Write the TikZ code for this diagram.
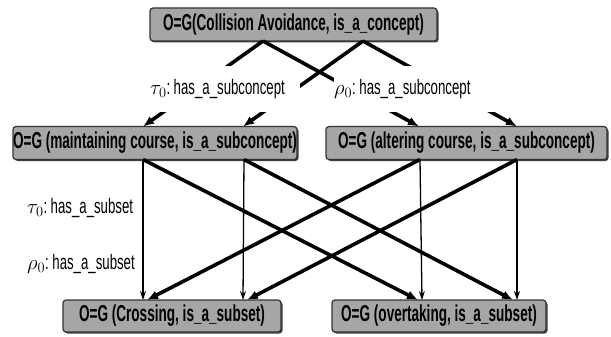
\documentclass[tikz,border=0pt]{standalone}
\usepackage{fontspec}
\setmainfont{Liberation Sans}
\newfontfamily\boxfont[FakeStretch=0.59]{Liberation Sans}
\newfontfamily\labfont[FakeStretch=0.63]{Liberation Sans}
\usetikzlibrary{arrows.meta,shadows}
\begin{document}
\begin{tikzpicture}[x=1pt,y=-1pt,
  box/.style={draw=black!80, line width=1.2pt, fill=black!35, rounded corners=3pt, inner sep=0pt,
    font=\boxfont\bfseries\fontsize{23}{26}\selectfont,
    drop shadow={shadow xshift=1.5pt, shadow yshift=-1.5pt, fill=black!75, opacity=1}},
  lab/.style={font=\labfont\fontsize{21}{24}\selectfont, inner sep=0pt},
  mask/.style={lab, fill=white, minimum height=46pt, align=left},
  thk/.style={line width=3.6pt, -{Latex[length=11pt,width=9pt]}},
  thn/.style={line width=1.3pt, -{Stealth[length=9pt,width=6pt]}}]
\useasboundingbox (0,0) rectangle (611,337);
\node[box, minimum width=287pt, minimum height=33pt] (top) at (293.5,24.5) {O=G(Collision Avoidance, is\_a\_concept)};
\node[box, minimum width=284pt, minimum height=33pt] (lmid) at (155,143) {O=G (maintaining course, is\_a\_subconcept)};
\node[box, minimum width=281pt, minimum height=33pt] (rmid) at (466.5,143) {O=G (altering course, is\_a\_subconcept)};
\node[box, minimum width=218pt, minimum height=32pt] (lbot) at (172,316) {O=G (Crossing, is\_a\_subset)};
\node[box, minimum width=214pt, minimum height=32pt] (rbot) at (439,316) {O=G (overtaking, is\_a\_subset)};
% attachment points
\coordinate (tA) at (263,41);
\coordinate (tB) at (363,41);
\coordinate (lin1) at (143,126.5);
\coordinate (lin2) at (243,126.5);
\coordinate (rin1) at (419,126.5);
\coordinate (rin2) at (517,126.5);
\coordinate (lout1) at (143,159.5);
\coordinate (lout2) at (244,159.5);
\coordinate (rout1) at (420,159.5);
\coordinate (rout2) at (517,159.5);
\coordinate (lb1) at (143,300);
\coordinate (lb2) at (243,300);
\coordinate (lb1d) at (147,300);
\coordinate (lb2d) at (247,300);
\coordinate (rb1) at (422,300);
\coordinate (rb2) at (517,300);
\coordinate (rb1d) at (418,300);
\coordinate (rb2d) at (513,300);
% connectors
\draw[thk] (tA) -- (lin1);
\draw[thk] (tA) -- (rin1);
\draw[thk] (tB) -- (lin2);
\draw[thk] (tB) -- (rin2);
\draw[thn] (lout1) -- (lb1);
\draw[thn] (lout2) -- (lb2);
\draw[thn] (rout1) -- (rb1);
\draw[thn] (rout2) -- (rb2);
\draw[thk] (lout1) -- (rb1d);
\draw[thk] (lout2) -- (rb2d);
\draw[thk] (rout1) -- (lb1d);
\draw[thk] (rout2) -- (lb2d);
% labels
\node[mask, anchor=west, text width=150pt] (l1) at (150,89) {$\tau_0$:\,has\_a\_subconcept};
\node[mask, anchor=west, text width=166pt] (l2) at (334,89) {$\rho_0$:\,has\_a\_subconcept};
\node[lab, anchor=west] (l3) at (27,208) {$\tau_0$:\,has\_a\_subset};
\node[lab, anchor=west] (l4) at (27,264) {$\rho_0$:\,has\_a\_subset};
\end{tikzpicture}
\end{document}
